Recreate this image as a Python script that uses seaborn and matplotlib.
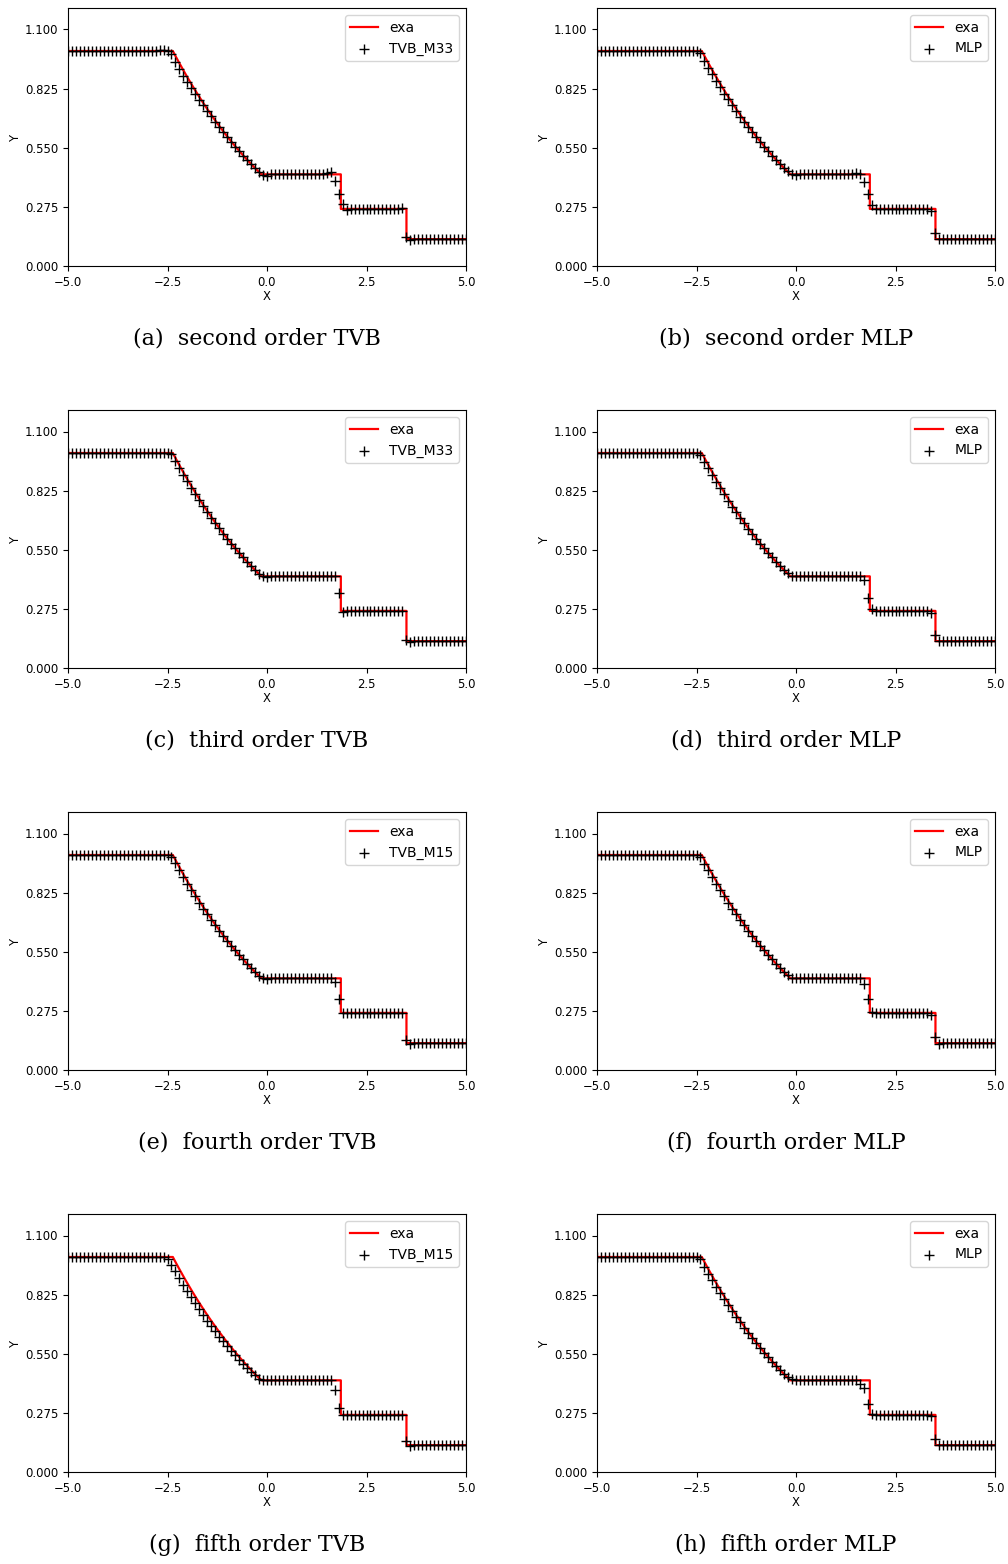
import numpy as np
import pandas as pd
import seaborn as sns
import matplotlib
matplotlib.use("Agg")
import matplotlib.pyplot as plt
from matplotlib.ticker import FuncFormatter

# ---------------- data ----------------
x_cells = np.linspace(-5.0, 5.0, 101)

x_exact = [-5.0, -2.366, -2.3, -2.2, -2.1, -2.0, -1.9, -1.8, -1.7, -1.6, -1.5, -1.4,
           -1.3, -1.2, -1.1, -1.0, -0.9, -0.8, -0.7, -0.6, -0.5, -0.4, -0.3, -0.2,
           -0.139, 1.855, 1.855, 3.504, 3.504, 5.0]
y_exact = [1.0, 1.0, 0.9768, 0.9428, 0.9097, 0.8774, 0.8462, 0.8158, 0.7863, 0.7577,
           0.7299, 0.7029, 0.6768, 0.6514, 0.6268, 0.6029, 0.5798, 0.5574, 0.5357,
           0.5147, 0.4943, 0.4745, 0.4555, 0.4370, 0.4263, 0.4263, 0.2656, 0.2656,
           0.125, 0.125]

rho_a = ([1.0] * 23 + [1.006, 1.006, 1.0, 0.985]
         + [0.950, 0.915, 0.886, 0.855, 0.826, 0.798, 0.772, 0.747, 0.721, 0.696, 0.671,
            0.646, 0.622, 0.599, 0.576, 0.554, 0.533, 0.512, 0.492, 0.473, 0.455, 0.438]
         + [0.422, 0.420] + [0.4263] * 14 + [0.434, 0.437]
         + [0.396, 0.337, 0.288, 0.262] + [0.2656] * 13
         + [0.270, 0.133, 0.121] + [0.125] * 14)

rho_b = ([1.0] * 26 + [0.990]
         + [0.955, 0.922, 0.891, 0.860, 0.831, 0.802, 0.775, 0.748, 0.721, 0.695, 0.670,
            0.646, 0.622, 0.599, 0.576, 0.554, 0.533, 0.512, 0.492, 0.473, 0.455, 0.440]
         + [0.428, 0.424] + [0.4263] * 14
         + [0.433, 0.430, 0.391, 0.333, 0.286, 0.266] + [0.2656] * 13
         + [0.255, 0.152, 0.125] + [0.125] * 14)

rho_c = ([1.0] * 26 + [0.995]
         + [0.962, 0.930, 0.899, 0.868, 0.838, 0.808, 0.780, 0.752, 0.725, 0.699, 0.674,
            0.649, 0.625, 0.602, 0.579, 0.557, 0.535, 0.514, 0.494, 0.474, 0.455, 0.438]
         + [0.428, 0.425] + [0.4263] * 17
         + [0.347, 0.262] + [0.2656] * 15
         + [0.130, 0.122] + [0.125] * 14)

rho_d = ([1.0] * 26 + [0.993]
         + [0.960, 0.928, 0.897, 0.866, 0.836, 0.807, 0.779, 0.751, 0.724, 0.698, 0.673,
            0.648, 0.624, 0.601, 0.578, 0.556, 0.535, 0.514, 0.494, 0.474, 0.456, 0.440]
         + [0.430, 0.427] + [0.4263] * 15
         + [0.428, 0.410, 0.324, 0.273] + [0.2656] * 14
         + [0.258, 0.153, 0.125] + [0.125] * 14)

rho_e = ([1.0] * 26 + [0.993]
         + [0.961, 0.929, 0.898, 0.867, 0.837, 0.808, 0.779, 0.751, 0.724, 0.698, 0.673,
            0.648, 0.624, 0.601, 0.578, 0.556, 0.535, 0.514, 0.494, 0.474, 0.455, 0.438]
         + [0.427, 0.425] + [0.4263] * 16
         + [0.410, 0.328, 0.263] + [0.2656] * 15
         + [0.139, 0.122] + [0.125] * 14)

rho_f = ([1.0] * 26 + [0.993]
         + [0.960, 0.928, 0.897, 0.866, 0.836, 0.807, 0.779, 0.751, 0.724, 0.698, 0.673,
            0.648, 0.624, 0.601, 0.578, 0.556, 0.535, 0.514, 0.494, 0.474, 0.456, 0.440]
         + [0.430, 0.427] + [0.4263] * 16
         + [0.399, 0.329, 0.268] + [0.2656] * 14
         + [0.255, 0.152, 0.122] + [0.125] * 14)

rho_g = ([1.0] * 25 + [0.990, 0.965]
         + [0.935, 0.903, 0.872, 0.842, 0.812, 0.784, 0.757, 0.730, 0.704, 0.679, 0.654,
            0.630, 0.607, 0.585, 0.564, 0.543, 0.523, 0.504, 0.485, 0.467, 0.450, 0.434]
         + [0.427, 0.426] + [0.4263] * 16
         + [0.380, 0.300, 0.265] + [0.2656] * 15
         + [0.144, 0.120] + [0.125] * 14)

rho_h = ([1.0] * 26 + [0.990]
         + [0.955, 0.922, 0.891, 0.861, 0.832, 0.803, 0.776, 0.749, 0.722, 0.697, 0.671,
            0.647, 0.623, 0.600, 0.577, 0.555, 0.534, 0.513, 0.493, 0.474, 0.456, 0.441]
         + [0.432, 0.428] + [0.4263] * 14
         + [0.426, 0.410, 0.391, 0.316, 0.269] + [0.2656] * 14
         + [0.260, 0.153, 0.125] + [0.125] * 14)

series = [rho_a, rho_b, rho_c, rho_d, rho_e, rho_f, rho_g, rho_h]
legend_labels = ["TVB_M33", "MLP", "TVB_M33", "MLP", "TVB_M15", "MLP", "TVB_M15", "MLP"]
captions = ["(a)  second order TVB", "(b)  second order MLP",
            "(c)  third order TVB", "(d)  third order MLP",
            "(e)  fourth order TVB", "(f)  fourth order MLP",
            "(g)  fifth order TVB", "(h)  fifth order MLP"]
y_ticks = [0.0, 0.275, 0.55, 0.825, 1.1]
x_ticks = [-5.0, -2.5, 0.0, 2.5, 5.0]

# ---------------- figure ----------------
W, H = 1008, 1564
fig = plt.figure(figsize=(W / 100, H / 100), dpi=100)

col_left = [68, 597]
row_top = [8, 410, 812, 1214]
ax_w, ax_h = 398, 258
cap_x = [257, 786]
cap_y = [338, 741, 1143, 1545]

fmt_x = FuncFormatter(lambda v, p: f"{v:.1f}".replace("-", "\u2212"))
fmt_y = FuncFormatter(lambda v, p: f"{v:.3f}".replace("-", "\u2212"))

for k in range(8):
    r, c = divmod(k, 2)
    left = col_left[c] / W
    bottom = (H - (row_top[r] + ax_h)) / H
    ax = fig.add_axes([left, bottom, ax_w / W, ax_h / H])
    sns.lineplot(x=x_exact, y=y_exact, estimator=None, sort=False, color="red",
                 linewidth=1.6, label="exa", ax=ax)
    sns.scatterplot(x=x_cells, y=series[k], marker="+", color="black", s=42,
                    linewidth=1.0, label=legend_labels[k], ax=ax, zorder=3)
    ax.set_xlim(-5, 5)
    ax.set_ylim(0, 1.2)
    ax.set_xticks(x_ticks)
    ax.set_yticks(y_ticks)
    ax.xaxis.set_major_formatter(fmt_x)
    ax.yaxis.set_major_formatter(fmt_y)
    ax.tick_params(labelsize=8.4, length=3.5)
    ax.set_xlabel("X", fontsize=8.4, labelpad=1)
    ax.set_ylabel("Y", fontsize=8.4, labelpad=2)
    ax.legend(loc="upper right", fontsize=10, frameon=True)
    fig.text(cap_x[c] / W, 1 - cap_y[r] / H, captions[k], family="DejaVu Serif",
             fontsize=16, ha="center", va="center")

fig.savefig("out.png", dpi=100)
